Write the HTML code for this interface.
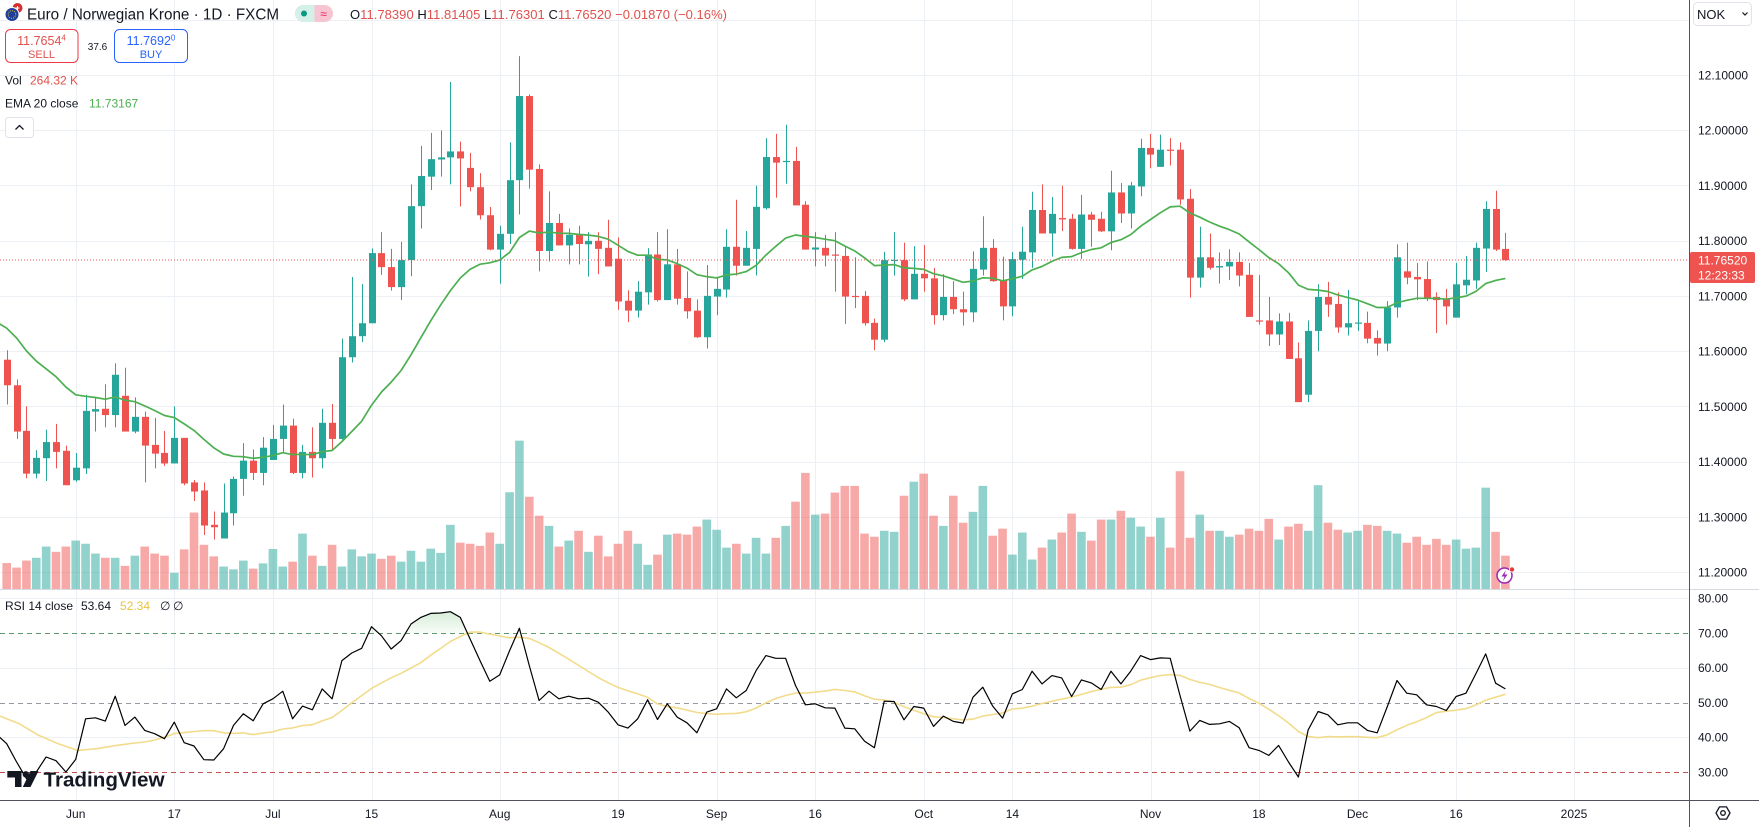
<!DOCTYPE html>
<html><head><meta charset="utf-8">
<style>
html,body{margin:0;padding:0;background:#fff;overflow:hidden;}
svg{display:block;font-family:"Liberation Sans",Arial,sans-serif;}
</style></head>
<body>
<svg id="c" width="1759" height="827" viewBox="0 0 1759 827" xmlns="http://www.w3.org/2000/svg">
<defs>
<linearGradient id="gf" gradientUnits="userSpaceOnUse" x1="0" y1="598" x2="0" y2="633">
<stop offset="0" stop-color="#4caf50" stop-opacity="0.35"/>
<stop offset="1" stop-color="#4caf50" stop-opacity="0.04"/>
</linearGradient>
<clipPath id="above70"><rect x="0" y="590" width="1689" height="43"/></clipPath>
<clipPath id="mainclip"><rect x="0" y="0" width="1689" height="589"/></clipPath>
<clipPath id="rsiclip"><rect x="0" y="590" width="1689" height="210"/></clipPath>
</defs>
<rect x="0" y="0" width="1759" height="827" fill="#fff"/>
<g id="grid"></g>
<g id="rsibands"></g>
<g id="vol" clip-path="url(#mainclip)"></g>
<g id="candles" clip-path="url(#mainclip)"></g>
<g id="ema" clip-path="url(#mainclip)"></g>
<line x1="0" x2="1689" y1="260" y2="260" stroke="#ef5350" stroke-width="1" stroke-dasharray="1 2"/>
<g id="rsi" clip-path="url(#rsiclip)"></g>

<!-- pane separators & axes -->
<line x1="0" x2="1759" y1="589.5" y2="589.5" stroke="#d6d9e0" stroke-width="1"/>
<line x1="0" x2="1759" y1="800.5" y2="800.5" stroke="#50535e" stroke-width="1"/>
<line x1="1689.5" x2="1689.5" y1="0" y2="827" stroke="#50535e" stroke-width="1"/>
<g id="axislabels" font-size="12" fill="#131722"></g>

<!-- current price label -->
<rect x="1690" y="252" width="65" height="31" rx="2" fill="#ef5350"/>
<text x="1698" y="264.5" font-size="12" fill="#fff">11.76520</text>
<text x="1698" y="279.5" font-size="12" fill="#fff">12:23:33</text>

<!-- NOK box -->
<rect x="1693.5" y="2.5" width="58" height="23" rx="4" fill="#fff" stroke="#e0e3eb"/>
<text x="1697" y="19" font-size="13" fill="#131722">NOK</text>
<polyline points="1742.5,12.5 1745,15 1747.5,12.5" fill="none" stroke="#131722" stroke-width="1.2"/>

<!-- settings icon -->
<polygon points="1730,813 1726.5,819.1 1719.5,819.1 1716,813 1719.5,806.9 1726.5,806.9" fill="none" stroke="#131722" stroke-width="1.3"/>
<circle cx="1723" cy="813" r="2.3" fill="none" stroke="#131722" stroke-width="1.3"/>

<!-- lightning icon -->
<circle cx="1504.5" cy="575.5" r="7.5" fill="#fff" stroke="#9c27b0" stroke-width="1.5"/>
<polygon points="1506,570 1501.5,576.5 1504.5,576.5 1503,581 1507.5,574.5 1504.5,574.5" fill="#9c27b0"/>
<circle cx="1512" cy="569.5" r="2.6" fill="#e53935" stroke="#fff" stroke-width="0.8"/>

<!-- header -->
<circle cx="17.5" cy="8" r="5" fill="#d32f2f"/>
<path d="M15.5 8 h4 M17.5 6 v4" stroke="#fff" stroke-width="1"/>
<circle cx="12" cy="14.5" r="7" fill="#1e3f9e" stroke="#fff" stroke-width="1"/>
<circle cx="12" cy="14.5" r="3.8" fill="none" stroke="#f5d000" stroke-width="0.9" stroke-dasharray="0.9 1.1"/>
<text x="27" y="19.5" font-size="15.5" fill="#131722" textLength="252" lengthAdjust="spacingAndGlyphs">Euro / Norwegian Krone · 1D · FXCM</text>
<rect x="295" y="5" width="38" height="17" rx="8.5" fill="#f7c5d2"/>
<path d="M303.5 5 h11 v17 h-11 a8.5 8.5 0 0 1 0 -17 z" fill="#d5efe9"/>
<circle cx="304" cy="13.5" r="3" fill="#089981"/>
<text x="323.5" y="18" font-size="12" fill="#e91e63" text-anchor="middle">≈</text>
<text x="350" y="19" font-size="13" textLength="377" lengthAdjust="spacing"><tspan fill="#131722">O</tspan><tspan fill="#e0504c">11.78390</tspan><tspan fill="#131722"> H</tspan><tspan fill="#e0504c">11.81405</tspan><tspan fill="#131722"> L</tspan><tspan fill="#e0504c">11.76301</tspan><tspan fill="#131722"> C</tspan><tspan fill="#e0504c">11.76520 −0.01870 (−0.16%)</tspan></text>

<rect x="5.5" y="29.5" width="72.5" height="33" rx="5" fill="#fff" stroke="#f23645"/>
<text x="41.5" y="45" font-size="12.5" fill="#e0504c" text-anchor="middle">11.7654<tspan font-size="8" dy="-4.5">4</tspan></text>
<text x="41.5" y="58" font-size="11" fill="#e0504c" text-anchor="middle">SELL</text>
<text x="97.5" y="50" font-size="10" fill="#131722" text-anchor="middle">37.6</text>
<rect x="114.5" y="29.5" width="73" height="33" rx="5" fill="#fff" stroke="#2962ff"/>
<text x="151" y="45" font-size="12.5" fill="#2962ff" text-anchor="middle">11.7692<tspan font-size="8" dy="-4.5">0</tspan></text>
<text x="151" y="58" font-size="11" fill="#2962ff" text-anchor="middle">BUY</text>

<text x="5" y="84.5" font-size="12" fill="#131722">Vol</text>
<text x="30" y="84.5" font-size="12" fill="#e0504c">264.32 K</text>
<text x="5" y="107.5" font-size="12" fill="#131722">EMA 20 close</text>
<text x="89" y="107.5" font-size="12" fill="#4caf50">11.73167</text>
<rect x="5.5" y="117.5" width="28" height="20" rx="3" fill="#fff" stroke="#e0e3eb"/>
<polyline points="15.5,129.5 19.5,125.5 23.5,129.5" fill="none" stroke="#131722" stroke-width="1.3"/>

<!-- RSI legend -->
<text x="5" y="610" font-size="12" fill="#131722">RSI 14 close</text>
<text x="81" y="610" font-size="12" fill="#131722">53.64</text>
<text x="120" y="610" font-size="12" fill="#e8c440">52.34</text>
<text x="160" y="610" font-size="12" fill="#131722">∅</text>
<text x="173" y="610" font-size="12" fill="#131722">∅</text>

<!-- TradingView logo -->
<g fill="#131722">
<path d="M7.3 771 H21.5 V787 H15 V777.5 H7.3 Z"/>
<circle cx="25.8" cy="774.3" r="3.2"/>
<polygon points="30.5,771 38.5,771 30.5,787 22.8,787"/>
<text x="43.5" y="786.5" font-size="20.5" font-weight="bold" textLength="121" lengthAdjust="spacingAndGlyphs">TradingView</text>
</g>
</svg>
<script>
(function(){
const NS="http://www.w3.org/2000/svg";
function el(tag,attrs,parent,text){const e=document.createElementNS(NS,tag);for(const k in attrs)e.setAttribute(k,attrs[k]);if(text!=null)e.textContent=text;parent.appendChild(e);return e;}
const X=i=>6.7+9.86*i;
const Y=z=>75+(z-100)*0.3506;
const RY=z=>633+(z-132)*0.3325;
const C=[
[0,885,912,985,1040],[0,968,985,1117,1138],[0,1045,1115,1237,1250],[1,1170,1192,1237,1250],[1,1112,1147,1193,1258],
[0,1095,1147,1175,1222],[0,1157,1172,1270,1270],[1,1178,1220,1256,1260],[1,1012,1058,1222,1238],[1,1020,1053,1060,1117],
[0,982,1052,1070,1105],[1,922,955,1070,1105],[0,935,1015,1117,1117],[1,1020,1075,1117,1122],[0,1060,1075,1157,1262],
[0,1078,1155,1180,1222],[0,1115,1178,1208,1215],[1,1045,1135,1208,1208],[0,1135,1135,1265,1270],[0,1255,1262,1288,1315],
[0,1262,1285,1385,1412],[0,1345,1383,1390,1425],[1,1265,1348,1422,1422],[1,1245,1252,1350,1385],[1,1150,1200,1252,1300],
[0,1168,1200,1235,1255],[1,1133,1163,1235,1270],[1,1098,1138,1198,1198],[1,1040,1100,1138,1175],[0,1080,1100,1235,1238],
[1,1155,1175,1235,1250],[0,1105,1175,1193,1248],[1,1052,1092,1193,1222],[0,1038,1092,1138,1168],[1,852,905,1138,1140],
[1,676,845,905,920],[1,696,808,845,862],[1,595,608,808,808],[0,548,608,648,670],[0,596,648,705,715],
[1,576,628,705,742],[1,412,474,628,674],[1,302,388,474,538],[1,265,340,390,428],[1,258,335,341,390],
[1,120,318,335,412],[0,290,318,338,475],[0,322,365,420,432],[0,380,420,500,512],[0,476,500,598,600],
[1,530,553,598,695],[1,292,400,553,582],[1,46,160,400,498],[0,155,160,370,424],[0,355,368,602,660],
[1,432,522,602,632],[0,496,522,586,586],[1,538,556,586,640],[0,530,556,582,640],[1,548,573,583,675],
[0,548,573,596,668],[0,513,593,646,646],[0,563,624,746,770],[0,714,744,772,805],[1,688,718,772,792],
[1,594,612,720,755],[0,548,612,742,746],[1,540,640,742,742],[0,596,640,738,755],[0,660,736,774,795],
[0,740,772,848,850],[1,642,730,848,880],[1,676,710,732,785],[1,540,590,712,735],[0,456,590,644,672],
[1,545,593,644,644],[1,416,476,596,672],[1,280,334,480,484],[0,268,334,350,450],[1,242,345,347,410],
[0,305,345,472,472],[0,460,470,598,598],[1,548,592,598,646],[0,556,593,615,646],[0,548,612,614,718],
[0,590,616,732,810],[0,620,730,733,765],[0,716,730,808,815],[0,795,807,855,885],[1,604,628,855,862],
[1,548,627,630,672],[0,578,628,740,745],[1,588,667,740,740],[0,585,667,680,718],[0,650,680,785,812],
[1,668,733,785,800],[0,688,733,768,782],[0,718,768,777,815],[1,603,653,777,805],[1,503,593,655,672],
[0,568,593,688,690],[0,618,686,760,800],[1,605,625,760,788],[1,533,604,627,682],[1,433,485,606,650],
[0,412,485,552,552],[1,448,496,552,618],[0,416,508,512,545],[0,496,510,596,598],[1,442,498,596,625],
[0,490,498,513,590],[0,490,510,546,548],[1,373,435,546,600],[0,408,435,495,522],[1,405,415,495,538],
[1,282,308,418,446],[0,268,308,327,366],[1,270,313,362,362],[0,280,313,316,358],[0,292,313,455,470],
[0,425,453,678,735],[1,533,620,678,706],[0,552,620,650,655],[1,606,645,649,695],[1,597,633,646,685],
[0,606,633,672,703],[0,636,670,790,790],[0,670,800,803,812],[0,733,800,840,873],[1,780,803,840,870],
[0,778,803,910,910],[0,863,908,1033,1033],[1,800,830,1012,1033],[1,697,733,830,888],[0,690,733,755,790],
[0,720,753,820,835],[1,713,808,820,843],[1,745,806,809,830],[0,775,807,852,865],[0,828,850,866,900],
[1,745,763,866,888],[1,583,620,763,792],[0,578,660,678,697],[0,636,676,683,742],[0,632,682,735,745],
[0,720,733,742,836],[0,710,740,760,812],[1,636,697,792,792],[1,616,684,700,725],[1,578,593,686,710],
[1,460,482,595,662],[0,430,482,598,602],[0,550,596,628,630]];
const V=[1492,1505,1485,1477,1445,1460,1445,1428,1437,1465,1477,1477,1500,1471,1445,1465,1471,1520,1453,1348,
1440,1473,1502,1510,1485,1508,1493,1452,1502,1488,1408,1471,1500,1440,1502,1453,1473,1465,1480,1471,
1488,1457,1488,1451,1463,1383,1434,1437,1443,1405,1437,1290,1143,1303,1357,1386,1445,1428,1400,1460,
1414,1473,1437,1400,1437,1497,1468,1411,1408,1411,1388,1368,1397,1448,1437,1465,1420,1465,1420,1386,
1317,1235,1354,1351,1291,1272,1272,1408,1417,1400,1403,1300,1260,1237,1357,1386,1300,1377,1346,1272,
1414,1394,1468,1405,1482,1448,1425,1405,1351,1403,1428,1368,1368,1343,1363,1388,1417,1363,1448,1230,
1420,1354,1400,1400,1417,1411,1394,1400,1366,1425,1388,1380,1400,1270,1377,1397,1405,1400,1383,1386,
1400,1408,1434,1417,1440,1423,1440,1425,1451,1448,1277,1403,1471];
const R=[465,520,570,550,505,516,550,512,390,387,397,322,410,385,425,435,450,400,462,472,
513,514,480,410,375,396,345,330,307,390,352,363,300,330,215,192,178,113,140,180,
155,105,85,73,72,68,85,150,215,277,258,185,118,230,335,307,330,322,330,328,
340,370,408,418,390,333,392,345,385,402,432,370,360,300,327,305,245,200,208,208,
290,348,345,357,358,418,420,457,477,337,338,393,353,358,413,382,398,403,325,295,
352,388,315,302,247,285,260,267,323,273,282,302,247,285,247,200,212,207,208,320,
427,395,407,405,398,417,477,485,500,470,520,565,423,368,378,408,402,402,425,432,
355,275,313,318,348,353,365,323,313,255,195,283,300];

const grid=document.getElementById('grid');
const gc='#eceff3';
for(let k=-1;k<=9;k++){const y=Math.round(75+k*55.22)+0.5;el('line',{x1:0,x2:1689,y1:y,y2:y,stroke:gc},grid);}
const vx=[75.7,174.3,272.9,371.5,499.7,618,716.6,815.2,923.7,1012.4,1150.5,1258.9,1357.5,1456.1,1574];
const vl=['Jun','17','Jul','15','Aug','19','Sep','16','Oct','14','Nov','18','Dec','16','2025'];
vx.forEach(x=>{const xx=Math.round(x)+0.5;el('line',{x1:xx,x2:xx,y1:0,y2:800,stroke:gc},grid);});
[80,60,40].forEach(v=>{const y=Math.round(772-(v-30)*3.475)+0.5;el('line',{x1:0,x2:1689,y1:y,y2:y,stroke:gc},grid);});

const rb=document.getElementById('rsibands');
[[70,'#5f9a6c'],[50,'#9598a1'],[30,'#c0504d']].forEach(a=>{const y=Math.round(772-(a[0]-30)*3.475)+0.5;el('line',{x1:0,x2:1689,y1:y,y2:y,stroke:a[1],'stroke-dasharray':'5 4','stroke-width':1},rb);});

const al=document.getElementById('axislabels');
vx.forEach((x,i)=>{el('text',{x:x,y:818,'text-anchor':'middle'},al,vl[i]);});
const pl=['12.10000','12.00000','11.90000','11.80000','11.70000','11.60000','11.50000','11.40000','11.30000','11.20000'];
pl.forEach((t,k)=>{const y=75+k*55.22;el('text',{x:1698,y:(y+4.5).toFixed(1)},al,t);});
['80.00','70.00','60.00','50.00','40.00','30.00'].forEach((t,k)=>{const y=598.2+k*34.75;el('text',{x:1698,y:(y+4.5).toFixed(1)},al,t);});

const vg=document.getElementById('vol');
V.forEach((v,i)=>{const x=X(i);const col=C[i][0]?'rgba(38,166,154,0.5)':'rgba(239,83,80,0.5)';const t=Y(v);
el('rect',{x:(x-4.3).toFixed(2),y:t.toFixed(2),width:8.6,height:(589-t).toFixed(2),fill:col},vg);});

const cg=document.getElementById('candles');
C.forEach((c,i)=>{const x=X(i);const col=c[0]?'#26a69a':'#ef5350';const rx=Math.round(x);
el('line',{x1:rx+0.5,x2:rx+0.5,y1:Y(c[1]).toFixed(2),y2:Y(c[4]).toFixed(2),stroke:col,'stroke-width':1},cg);
let t=Y(c[2]),b=Y(c[3]);if(b-t<1.2){b=t+1.2;}
el('rect',{x:rx-3,y:t.toFixed(2),width:7,height:(b-t).toFixed(2),fill:col},cg);});

const eg=document.getElementById('ema');
let e=805;const ep=[[X(-1),Y(805)]];
C.forEach((c,i)=>{const cl=c[0]?c[2]:c[3];e=e+(cl-e)*2/21;ep.push([X(i),Y(e)]);});
el('polyline',{points:ep.map(p=>p[0].toFixed(1)+','+p[1].toFixed(1)).join(' '),fill:'none',stroke:'#4caf50','stroke-width':1.7,'stroke-linejoin':'round'},eg);

const rg=document.getElementById('rsi');
const rp=[[X(-1),RY(438)]].concat(R.map((r,i)=>[X(i),RY(r)]));
const rpStr=rp.map(p=>p[0].toFixed(1)+','+p[1].toFixed(1)).join(' ');
const fillPts=rpStr+' '+X(152).toFixed(1)+',633 '+X(-1).toFixed(1)+',633';
el('polygon',{points:fillPts,fill:'url(#gf)','clip-path':'url(#above70)'},rg);
// yellow MA
const yp=[[0,382],[19.4,405],[38.8,440],[58.2,465],[77.6,485],[96.9,480],[116.3,470]].map(p=>[p[0],RY(p[1])]);
for(let i=13;i<R.length;i++){let s=0;for(let j=i-13;j<=i;j++)s+=R[j];yp.push([X(i),RY(s/14)]);}
el('polyline',{points:yp.map(p=>p[0].toFixed(1)+','+p[1].toFixed(1)).join(' '),fill:'none',stroke:'#f2dc8c','stroke-width':1.6,'stroke-linejoin':'round'},rg);
el('polyline',{points:rpStr,fill:'none',stroke:'#000','stroke-width':1.2,'stroke-linejoin':'round'},rg);
})();
</script>
</body></html>
